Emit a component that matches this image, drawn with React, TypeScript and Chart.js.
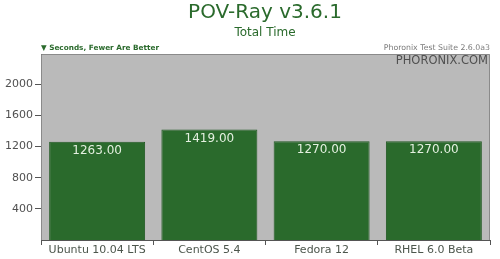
import React, { useEffect, useRef } from "react";
import { Chart, registerables } from "chart.js";

Chart.register(...registerables);

const categories = ["Ubuntu 10.04 LTS", "CentOS 5.4", "Fedora 12", "RHEL 6.0 Beta"];
const seconds = [1263, 1419, 1270, 1270];
const yTicks = [400, 800, 1200, 1600, 2000];

const titleText = "POV-Ray v3.6.1";
const subtitleText = "Total Time";
const unitText = "Seconds, Fewer Are Better";
const suiteText = "Phoronix Test Suite 2.6.0a3";
const brandText = "PHORONIX.COM";

const FONT = "'DejaVu Sans', sans-serif";
const GREEN = "#2a6a2c";

const decorations = {
  id: "decorations",
  beforeDraw(chart: any) {
    const { ctx, chartArea: a } = chart;
    ctx.save();
    ctx.fillStyle = "#ffffff";
    ctx.fillRect(0, 0, chart.width, chart.height);
    ctx.fillStyle = "#bababa";
    ctx.fillRect(a.left, a.top, a.right - a.left, a.bottom - a.top);
    ctx.restore();
  },
  afterDraw(chart: any) {
    const { ctx, chartArea: a } = chart;
    ctx.save();
    // plot frame
    ctx.strokeStyle = "#8a8a8a";
    ctx.lineWidth = 1;
    ctx.beginPath();
    ctx.moveTo(a.left + 0.5, a.bottom);
    ctx.lineTo(a.left + 0.5, a.top + 0.5);
    ctx.lineTo(a.right - 0.5, a.top + 0.5);
    ctx.lineTo(a.right - 0.5, a.bottom);
    ctx.stroke();

    // headings
    ctx.textAlign = "center";
    ctx.textBaseline = "middle";
    ctx.fillStyle = GREEN;
    ctx.font = `20px ${FONT}`;
    ctx.fillText(titleText, 265, 13);
    ctx.font = `12px ${FONT}`;
    ctx.fillText(subtitleText, 265, 33);

    ctx.textAlign = "left";
    ctx.font = `bold 7.3px ${FONT}`;
    ctx.fillText("\u25BC " + unitText, a.left, 48);

    ctx.textAlign = "right";
    ctx.fillStyle = "#7a7a7a";
    ctx.font = `7.8px ${FONT}`;
    ctx.fillText(suiteText, a.right, 48);

    ctx.fillStyle = "#505050";
    ctx.font = `11.5px ${FONT}`;
    ctx.fillText(brandText, a.right - 2, a.top + 7);

    // value labels inside the bars
    const meta = chart.getDatasetMeta(0);
    ctx.textAlign = "center";
    ctx.fillStyle = "#e4f0e0";
    ctx.font = `12px ${FONT}`;
    meta.data.forEach((bar: any, i: number) => {
      ctx.fillText(seconds[i].toFixed(2), bar.x, bar.y + 9);
    });
    ctx.restore();
  },
};

export default function App() {
  const ref = useRef<HTMLCanvasElement>(null);

  useEffect(() => {
    document.body.style.margin = "0";
    const chart = new Chart(ref.current!, {
      type: "bar",
      data: {
        labels: categories,
        datasets: [
          {
            data: seconds,
            backgroundColor: GREEN,
            borderColor: "#225a24",
            borderWidth: 1,
            categoryPercentage: 1,
            barPercentage: 0.855,
          },
        ],
      },
      options: {
        animation: false,
        responsive: false,
        maintainAspectRatio: false,
        layout: { padding: { left: 0, right: 10, top: 54, bottom: 0 } },
        plugins: {
          legend: { display: false },
          title: { display: false },
          tooltip: { enabled: false },
        },
        scales: {
          x: {
            offset: true,
            grid: {
              offset: true,
              drawOnChartArea: false,
              drawTicks: true,
              tickLength: 5,
              color: "#555555",
            },
            border: { color: "#555555", width: 1 },
            ticks: {
              color: "#4c564c",
              font: { family: FONT, size: 11 },
              padding: -1,
              maxRotation: 0,
              autoSkip: false,
            },
            afterFit(scale: any) {
              scale.height = 19;
            },
          },
          y: {
            min: 0,
            max: 2390,
            afterBuildTicks(scale: any) {
              scale.ticks = yTicks.map((v) => ({ value: v }));
            },
            grid: {
              drawOnChartArea: false,
              drawTicks: true,
              tickLength: 6,
              color: "#555555",
            },
            border: { color: "#555555", width: 1 },
            ticks: {
              color: "#505050",
              font: { family: FONT, size: 11 },
              padding: 2,
              callback: (v: any) => String(v),
            },
            afterFit(scale: any) {
              scale.width = 41;
            },
          },
        },
      },
      plugins: [decorations],
    });
    return () => chart.destroy();
  }, []);

  return (
    <div style={{ position: "fixed", left: 0, top: 0, width: 500, height: 259 }}>
      <canvas ref={ref} width={500} height={259} style={{ width: 500, height: 259 }} />
    </div>
  );
}
